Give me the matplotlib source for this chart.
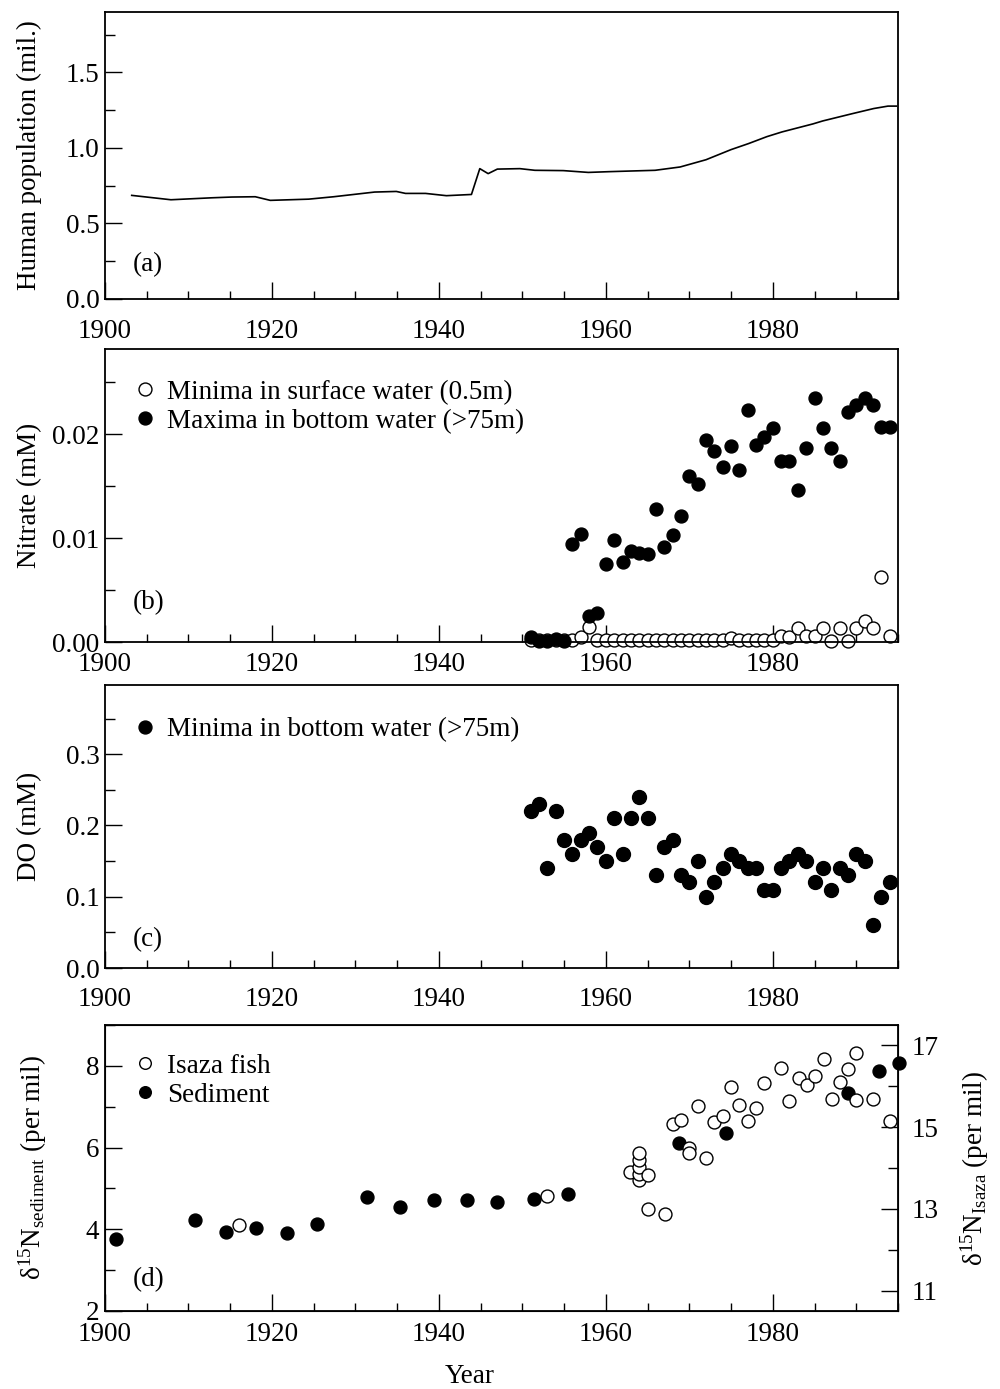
import matplotlib
matplotlib.use('Agg')
import matplotlib.pyplot as plt
from matplotlib.ticker import MultipleLocator

plt.rcParams['font.family'] = ['Liberation Serif', 'DejaVu Serif']
plt.rcParams['mathtext.fontset'] = 'custom'
plt.rcParams['mathtext.rm'] = 'Liberation Serif'
plt.rcParams['mathtext.it'] = 'Liberation Serif:italic'

# (a) human population
pop_year = [1903.2, 1907.9, 1912.8, 1915.2, 1918.0, 1919.8, 1924.4, 1927.4, 1932.3, 1934.9,
            1936.0, 1938.4, 1940.9, 1943.9, 1944.9, 1945.9, 1947.0, 1949.7, 1951.5, 1954.9,
            1957.9, 1960.4, 1962.8, 1965.9, 1968.9, 1972.0, 1975.0, 1977.1, 1979.3, 1981.1,
            1984.8, 1986.0, 1989.6, 1992.1, 1993.8, 1994.8]
pop_mil = [0.686, 0.657, 0.670, 0.675, 0.677, 0.653, 0.661, 0.677, 0.708, 0.712,
           0.699, 0.699, 0.684, 0.692, 0.863, 0.830, 0.860, 0.863, 0.852, 0.850,
           0.838, 0.843, 0.847, 0.852, 0.874, 0.922, 0.989, 1.029, 1.075, 1.106,
           1.159, 1.179, 1.228, 1.261, 1.277, 1.277]

# (b) nitrate
nit_year = list(range(1951, 1995))
nit_max = [0.0005, 0.0001, 0.0001, 0.0003, 0.0001, 0.0094, 0.0104, 0.0025, 0.0028, 0.0075,
           0.0098, 0.0077, 0.0088, 0.0086, 0.0085, 0.0128, 0.0091, 0.0103, 0.0121, 0.0160,
           0.0152, 0.0194, 0.0184, 0.0168, 0.0189, 0.0166, 0.0223, 0.0190, 0.0197, 0.0206,
           0.0174, 0.0174, 0.0146, 0.0187, 0.0235, 0.0206, 0.0187, 0.0174, 0.0221, 0.0228,
           0.0235, 0.0228, 0.0207, 0.0207]
nit_min = [0.0002, 0.0002, 0.0002, 0.0002, 0.0002, 0.0002, 0.0005, 0.0014, 0.0002, 0.0002,
           0.0002, 0.0002, 0.0002, 0.0002, 0.0002, 0.0002, 0.0002, 0.0002, 0.0002, 0.0002,
           0.0002, 0.0002, 0.0002, 0.0002, 0.0004, 0.0002, 0.0002, 0.0002, 0.0002, 0.0002,
           0.0006, 0.0005, 0.0013, 0.0006, 0.0006, 0.0013, 0.0001, 0.0013, 0.0001, 0.0013,
           0.0020, 0.0013, 0.0063, 0.0006]

# (c) dissolved oxygen
do_year = list(range(1951, 1995))
do_min = [0.22, 0.23, 0.14, 0.22, 0.18, 0.16, 0.18, 0.19, 0.17, 0.15,
          0.21, 0.16, 0.21, 0.24, 0.21, 0.13, 0.17, 0.18, 0.13, 0.12,
          0.15, 0.10, 0.12, 0.14, 0.16, 0.15, 0.14, 0.14, 0.11, 0.11,
          0.14, 0.15, 0.16, 0.15, 0.12, 0.14, 0.11, 0.14, 0.13, 0.16,
          0.15, 0.06, 0.10, 0.12]

# (d) nitrogen isotopes
sed_year = [1901.3, 1910.8, 1914.5, 1918.1, 1921.8, 1925.4, 1931.4, 1935.4, 1939.4, 1943.4,
            1947.0, 1951.4, 1955.5, 1968.8, 1974.4, 1989.0, 1992.7, 1995.1]
sed_d15n = [3.76, 4.22, 3.93, 4.04, 3.91, 4.13, 4.80, 4.54, 4.72, 4.71,
            4.67, 4.73, 4.86, 6.10, 6.35, 7.34, 7.88, 8.07]
fish_year = [1916.1, 1952.9, 1962.9, 1964.0, 1964.0, 1964.0, 1964.0, 1964.0, 1965.1, 1965.1,
             1967.1, 1968.0, 1969.0, 1970.0, 1970.0, 1971.0, 1972.0, 1973.0, 1974.0, 1975.0,
             1976.0, 1977.0, 1978.0, 1979.0, 1981.0, 1982.0, 1983.1, 1984.1, 1985.1, 1986.1,
             1987.1, 1988.0, 1989.0, 1990.0, 1990.0, 1992.0, 1994.0]
fish_d15n = [12.61, 13.31, 13.91, 13.70, 13.85, 14.02, 14.20, 14.37, 13.83, 13.00,
             12.87, 15.08, 15.17, 14.50, 14.36, 15.51, 14.24, 15.12, 15.27, 15.98,
             15.53, 15.16, 15.47, 16.08, 16.45, 15.63, 16.20, 16.04, 16.26, 16.67,
             15.69, 16.10, 16.43, 16.81, 15.67, 15.70, 15.15]
isaza_ticks = [11, 13, 15, 17]
isaza_minor = [12, 14, 16]

fs = 19.5
W, H = 1000, 1389
fig = plt.figure(figsize=(W / 100, H / 100), dpi=100)

def box(top, bottom):
    return [105 / W, 1 - bottom / H, 793 / W, (bottom - top) / H]

axa = fig.add_axes(box(12, 299))
axb = fig.add_axes(box(349, 642))
axc = fig.add_axes(box(685, 968))
axd = fig.add_axes(box(1025, 1311))

for ax, xpad in ((axa, 14.5), (axb, 7), (axc, 13.5), (axd, 8)):
    ax.set_xlim(1900, 1995)
    ax.xaxis.set_major_locator(MultipleLocator(20))
    ax.xaxis.set_minor_locator(MultipleLocator(5))
    ax.tick_params(which='both', direction='in', top=False, right=False, labelsize=fs, width=1)
    ax.tick_params(axis='x', which='major', length=12, pad=xpad)
    ax.tick_params(axis='x', which='minor', length=6)
    ax.tick_params(axis='y', which='major', length=12, pad=4)
    ax.tick_params(axis='y', which='minor', length=7)
    for s in ax.spines.values():
        s.set_linewidth(1.3)

# (a)
axa.plot(pop_year, pop_mil, color='black', lw=1.2)
axa.set_ylim(0, 1.9)
axa.yaxis.set_major_locator(MultipleLocator(0.5))
axa.yaxis.set_minor_locator(MultipleLocator(0.25))
axa.yaxis.set_major_formatter('{x:.1f}')
axa.set_ylabel('Human population (mil.)', fontsize=fs)
axa.yaxis.set_label_coords(-0.079, 0.5)
axa.text(0.035, 0.12, '(a)', transform=axa.transAxes, fontsize=fs, va='center')

# (b)
axb.plot(nit_year, nit_min, 'o', ms=9.3, mfc='white', mec='black', mew=1,
         clip_on=False, label='Minima in surface water (0.5m)')
axb.plot(nit_year, nit_max, 'o', ms=9.3, mfc='black', mec='black',
         clip_on=False, label='Maxima in bottom water (>75m)')
axb.set_ylim(0, 0.0282)
axb.yaxis.set_major_locator(MultipleLocator(0.01))
axb.yaxis.set_minor_locator(MultipleLocator(0.005))
axb.yaxis.set_major_formatter('{x:.2f}')
axb.set_ylabel('Nitrate (mM)', fontsize=fs)
axb.yaxis.set_label_coords(-0.079, 0.5)
axb.text(0.035, 0.133, '(b)', transform=axb.transAxes, fontsize=fs, va='center')
axb.legend(loc='upper left', bbox_to_anchor=(0.037, 0.895), frameon=False, fontsize=fs,
           borderaxespad=0, borderpad=0, handlelength=0.8, handletextpad=0.4,
           labelspacing=0.15, markerscale=1.0)

# (c)
axc.plot(do_year, do_min, 'o', ms=10, mfc='black', mec='black',
         label='Minima in bottom water (>75m)')
axc.set_ylim(0, 0.397)
axc.yaxis.set_major_locator(MultipleLocator(0.1))
axc.yaxis.set_minor_locator(MultipleLocator(0.05))
axc.yaxis.set_major_formatter('{x:.1f}')
axc.set_ylabel('DO (mM)', fontsize=fs)
axc.yaxis.set_label_coords(-0.079, 0.5)
axc.text(0.035, 0.10, '(c)', transform=axc.transAxes, fontsize=fs, va='center')
axc.legend(loc='upper left', bbox_to_anchor=(0.037, 0.885), frameon=False, fontsize=fs,
           borderaxespad=0, borderpad=0, handlelength=0.8, handletextpad=0.4,
           markerscale=0.93)

# (d)
axd2 = axd.twinx()
hs, = axd.plot(sed_year, sed_d15n, 'o', ms=9.3, mfc='black', mec='black',
               clip_on=False, label='Sediment')
hf, = axd2.plot(fish_year, fish_d15n, 'o', ms=9.3, mfc='white', mec='black', mew=1,
                label='Isaza fish')
axd.set_ylim(2, 9)
axd.yaxis.set_major_locator(MultipleLocator(2))
axd.yaxis.set_minor_locator(MultipleLocator(1))
axd2.set_ylim(10.5, 17.5)
axd2.set_yticks(isaza_ticks)
axd2.set_yticks(isaza_minor, minor=True)
axd2.tick_params(which='both', direction='in', labelsize=fs, width=1)
axd2.tick_params(which='major', length=12, pad=10)
axd2.tick_params(which='minor', length=7)
axd.set_ylabel('δ$^{\\mathrm{15}}$N$_{\\mathrm{sediment}}$ (per mil)', fontsize=fs)
axd.yaxis.set_label_coords(-0.071, 0.5)
axd2.set_ylabel('δ$^{\\mathrm{15}}$N$_{\\mathrm{Isaza}}$ (per mil)', fontsize=fs)
axd2.yaxis.set_label_coords(1.0757, 0.5)
axd.text(0.035, 0.108, '(d)', transform=axd.transAxes, fontsize=fs, va='center')
axd2.legend(handles=[hf, hs], loc='upper left', bbox_to_anchor=(0.037, 0.90), frameon=False,
            fontsize=fs, borderaxespad=0, borderpad=0, handlelength=0.8, handletextpad=0.4,
            labelspacing=0.15, markerscale=0.9)
axd.set_xlabel('Year', fontsize=fs)
axd.xaxis.set_label_coords(0.46, -0.184)

fig.savefig('out.png', dpi=100)
